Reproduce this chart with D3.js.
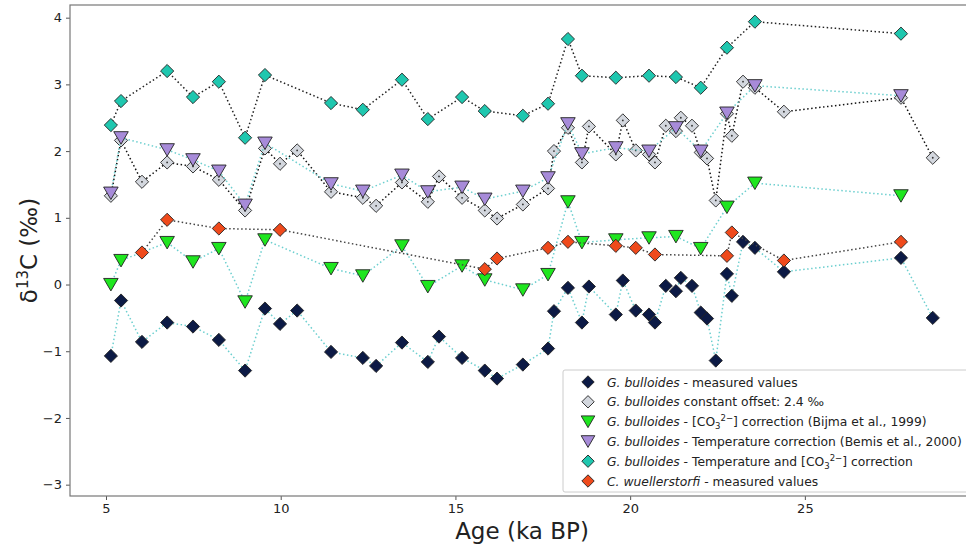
<!DOCTYPE html>
<html>
<head>
<meta charset="utf-8">
<script src="https://cdn.jsdelivr.net/npm/d3@7"></script>
<style>
  body { margin: 0; background: #fff; }
  text { font-family: "DejaVu Sans", sans-serif; fill: #222; }
</style>
</head>
<body>
<svg id="chart" width="966" height="548"></svg>
<script>
// ages (ka BP) of the G. bulloides samples
var ageBul = [5.14, 5.43, 6.03, 6.75, 7.49, 8.23, 8.98, 9.55, 9.98, 10.47, 11.44, 12.35, 12.73, 13.47,
    14.21, 14.53, 15.19, 15.84, 16.19, 16.93, 17.65, 17.82, 18.22, 18.62, 18.82, 19.59, 19.79, 20.16,
    20.54, 20.71, 21.02, 21.31, 21.45, 21.77, 22.02, 22.20, 22.45, 22.77, 22.91, 23.23, 23.57, 24.40,
    27.75, 28.66];
var bulMeasured = [-1.07, -0.24, -0.86, -0.57, -0.63, -0.83, -1.29, -0.36, -0.59, -0.39, -1.01, -1.10, -1.22, -0.87,
    -1.16, -0.78, -1.10, -1.29, -1.41, -1.20, -0.96, -0.40, -0.05, -0.57, -0.03, -0.45, 0.06, -0.39,
    -0.45, -0.57, -0.02, -0.10, 0.10, -0.02, -0.42, -0.51, -1.14, 0.16, -0.17, 0.64, 0.55, 0.19,
    0.40, -0.50];
var bulOffset = [1.33, 2.16, 1.54, 1.83, 1.77, 1.57, 1.11, 2.04, 1.81, 2.01, 1.39, 1.30, 1.18, 1.53,
    1.24, 1.62, 1.30, 1.11, 0.99, 1.20, 1.44, 2.00, 2.35, 1.83, 2.37, 1.95, 2.46, 2.01,
    1.95, 1.83, 2.38, 2.30, 2.50, 2.38, 1.98, 1.89, 1.26, 2.56, 2.23, 3.04, 2.95, 2.59,
    2.80, 1.90];

// ages of the corrected series
var ageCorr = [5.14, 5.43, 6.75, 7.49, 8.23, 8.98, 9.55, 11.44, 12.35, 13.47, 14.21, 15.19, 15.84, 16.93,
    17.65, 18.22, 18.62, 19.59, 20.54, 21.31, 22.02, 22.77, 23.57, 27.75];
var bulCO3 = [0.00, 0.36, 0.63, 0.34, 0.54, -0.26, 0.67, 0.24, 0.13, 0.58, -0.03, 0.28, 0.07, -0.08,
    0.15, 1.24, 0.63, 0.67, 0.70, 0.72, 0.54, 1.16, 1.52, 1.33];
var bulTemp = [1.37, 2.20, 2.02, 1.87, 1.70, 1.19, 2.12, 1.51, 1.40, 1.64, 1.39, 1.46, 1.28, 1.40,
    1.60, 2.41, 1.96, 2.05, 2.00, 2.35, 2.00, 2.57, 2.98, 2.83];
var bulTempCO3 = [2.39, 2.75, 3.20, 2.81, 3.04, 2.20, 3.14, 2.72, 2.62, 3.07, 2.48, 2.81, 2.60, 2.53,
    2.71, 3.68, 3.13, 3.10, 3.13, 3.11, 2.95, 3.55, 3.94, 3.76];

// C. wuellerstorfi
var ageWuel = [6.03, 6.75, 8.23, 9.98, 15.84, 16.19, 17.65, 18.22, 19.59, 20.16, 20.71, 22.77, 22.91, 24.40, 27.75];
var wuelMeasured = [0.48, 0.97, 0.84, 0.82, 0.23, 0.39, 0.55, 0.64, 0.58, 0.55, 0.45, 0.43, 0.78, 0.36, 0.64];

var xTicks = [5, 10, 15, 20, 25];
var yTicks = [-3, -2, -1, 0, 1, 2, 3, 4];

var series = [
    {ages: ageBul, vals: bulMeasured, shape: "D", fill: "#0c1a45", line: "#6ccfcf", sp: "G. bulloides", rest: [" - measured values"]},
    {ages: ageBul, vals: bulOffset, shape: "D", fill: "#d3d7de", line: "#111", dot: true, sp: "G. bulloides", rest: [" constant offset: 2.4 \u2030"]},
    {ages: ageCorr, vals: bulCO3, shape: "v", fill: "#1fe61f", line: "#6ccfcf", sp: "G. bulloides", rest: [" - [CO", "3", "2\u2212", "] correction (Bijma et al., 1999)"]},
    {ages: ageCorr, vals: bulTemp, shape: "v", fill: "#a78bd9", line: "#6ccfcf", sp: "G. bulloides", rest: [" - Temperature correction (Bemis et al., 2000)"]},
    {ages: ageCorr, vals: bulTempCO3, shape: "D", fill: "#1fc7af", line: "#222", sp: "G. bulloides", rest: [" - Temperature and [CO", "3", "2\u2212", "] correction"]},
    {ages: ageWuel, vals: wuelMeasured, shape: "D", fill: "#ef4a1c", line: "#444", sp: "C. wuellerstorfi", rest: [" - measured values"]}
];

var svg = d3.select("#chart");
var pLeft = 70, pRight = 974, pTop = 5, pBottom = 496;
var legSx = 0.95; // legend text is a bit narrower than plain DejaVu

var x = d3.scaleLinear().domain([3.97, 29.84]).range([pLeft, pRight]);
var y = d3.scaleLinear().domain([-3.17, 4.19]).range([pBottom, pTop]);

function markerPath(shape, s) {
    if (shape === "D") return "M0," + (-s) + "L" + s + ",0L0," + s + "L" + (-s) + ",0Z";
    return "M" + (-s * 1.1) + "," + (-s * 0.92) + "L" + (s * 1.1) + "," + (-s * 0.92) + "L0," + (s * 0.97) + "Z";
}

// axes
var xAxis = d3.axisBottom(x).tickValues(xTicks).tickSize(4).tickPadding(4);
var yAxis = d3.axisLeft(y).tickValues(yTicks).tickSize(4).tickPadding(4);

var gx = svg.append("g").attr("transform", "translate(0," + pBottom + ")").call(xAxis);
var gy = svg.append("g").attr("transform", "translate(" + pLeft + ",0)").call(yAxis);
[gx, gy].forEach(function (g) {
    g.select(".domain").remove();
    g.selectAll(".tick line").attr("stroke", "#555");
    g.selectAll(".tick text").attr("font-size", 13).attr("fill", "#222")
        .style("font-family", "DejaVu Sans, sans-serif");
});

svg.append("rect")
    .attr("x", pLeft).attr("y", pTop)
    .attr("width", pRight - pLeft).attr("height", pBottom - pTop)
    .attr("fill", "none").attr("stroke", "#777").attr("stroke-width", 1.2);

svg.append("defs").append("clipPath").attr("id", "plotclip")
    .append("rect").attr("x", pLeft).attr("y", pTop).attr("width", pRight - pLeft).attr("height", pBottom - pTop);

var plot = svg.append("g").attr("clip-path", "url(#plotclip)");

series.forEach(function (s) {
    var pts = s.ages.map(function (a, i) { return [a, s.vals[i]]; });
    plot.append("path")
        .attr("d", d3.line().x(function (d) { return x(d[0]); }).y(function (d) { return y(d[1]); })(pts))
        .attr("fill", "none")
        .attr("stroke", s.line)
        .attr("stroke-width", 1.5)
        .attr("stroke-dasharray", "1.5,2.5");
    plot.selectAll(null).data(pts).enter().append("path")
        .attr("transform", function (d) { return "translate(" + x(d[0]) + "," + y(d[1]) + ")"; })
        .attr("d", markerPath(s.shape, 6.6))
        .attr("fill", s.fill)
        .attr("stroke", "#222")
        .attr("stroke-width", 0.9);
    if (s.dot) {
        plot.selectAll(null).data(pts).enter().append("circle")
            .attr("cx", function (d) { return x(d[0]); })
            .attr("cy", function (d) { return y(d[1]); })
            .attr("r", 0.9).attr("fill", "#333");
    }
});

// legend
var leg = svg.append("g");
leg.append("rect")
    .attr("x", 563).attr("y", 370).attr("width", 420).attr("height", 122)
    .attr("rx", 2).attr("fill", "#fff").attr("fill-opacity", 0.85)
    .attr("stroke", "#ccc").attr("stroke-width", 1);

series.forEach(function (s, i) {
    var cy = 382 + i * 19.8;
    leg.append("path")
        .attr("transform", "translate(588," + cy + ")")
        .attr("d", markerPath(s.shape, 6.2))
        .attr("fill", s.fill).attr("stroke", "#222").attr("stroke-width", 0.9);
    var t = leg.append("text")
        .attr("transform", "translate(607," + (cy + 4.5) + ") scale(" + legSx + ",1)")
        .attr("font-size", 13);
    t.append("tspan").attr("font-style", "italic").text(s.sp);
    if (s.rest.length === 1) {
        t.append("tspan").text(s.rest[0]);
    } else {
        t.append("tspan").text(s.rest[0]);
        t.append("tspan").attr("font-size", 9).attr("dy", 3).text(s.rest[1]);
        t.append("tspan").attr("font-size", 9).attr("dy", -8).text(s.rest[2]);
        t.append("tspan").attr("dy", 5).text(s.rest[3]);
    }
});

// axis titles
svg.append("text")
    .attr("x", 522).attr("y", 539)
    .attr("text-anchor", "middle").attr("font-size", 23)
    .text("Age (ka BP)");

var yl = svg.append("text")
    .attr("transform", "translate(37," + ((pTop + pBottom) / 2) + ") rotate(-90)")
    .attr("text-anchor", "middle").attr("font-size", 23);
yl.append("tspan").text("\u03b4");
yl.append("tspan").attr("font-size", 15).attr("dy", -9).text("13");
yl.append("tspan").attr("dy", 9).text("C (\u2030)");
</script>
</body>
</html>
